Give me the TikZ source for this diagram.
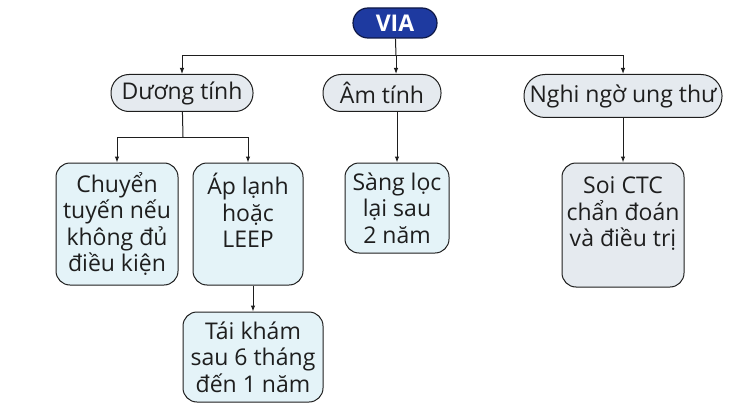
\documentclass[tikz,border=0pt]{standalone}
\usepackage{fontspec}
\setmainfont{Open Sans}
\usetikzlibrary{positioning,arrows.meta}

\definecolor{viablue}{RGB}{30,58,160}
\definecolor{vianavy}{RGB}{14,24,70}
\definecolor{boxcyan}{RGB}{228,243,248}
\definecolor{boxgrey}{RGB}{229,234,239}
\definecolor{inkgrey}{RGB}{30,30,30}

\begin{document}
\begin{tikzpicture}[x=1pt,y=-1pt,>={Latex[length=6pt,width=4.5pt]},
  every node/.style={font=\fontsize{23}{26.5}\selectfont,text=inkgrey,align=center,inner sep=0pt},
  pill/.style={draw=inkgrey,line width=1pt,fill=boxgrey,rounded corners=18pt,minimum height=37pt},
  card/.style={draw=inkgrey,line width=1pt,rounded corners=14pt,fill=boxcyan},
  link/.style={draw=inkgrey,line width=1pt}]
  \useasboundingbox (0,0) rectangle (738,417);
  % top
  \node[draw=vianavy,line width=1.2pt,fill=viablue,rounded corners=15pt,minimum width=84pt,minimum height=30pt,
        text=white,font=\fontsize{23}{26}\selectfont\bfseries] (via) at (395,23) {VIA};
  \node[pill,minimum width=142pt] (duong) at (182,93) {Dương tính};
  \node[pill,minimum width=118pt] (am) at (382,93) {Âm tính};
  \node[pill,minimum width=198pt,minimum height=43pt,rounded corners=21pt] (nghi) at (623,96) {Nghi ngờ ung thư};
  % second row
  \node[card,minimum width=122pt,minimum height=122pt] (chuyen) at (117,224) {Chuyển\\tuyến nếu\\không đủ\\điều kiện};
  \node[card,minimum width=110pt,minimum height=122pt] (aplanh) at (248,224) {Áp lạnh\\hoặc\\LEEP\\\phantom{X}};
  \node[card,minimum width=104pt,minimum height=90pt] (sang) at (397,208) {Sàng lọc\\lại sau\\2 năm};
  \node[card,fill=boxgrey,minimum width=122pt,minimum height=124pt] (soi) at (623,225) {Soi CTC\\chẩn đoán\\và điều trị\\\phantom{X}};
  \node[card,minimum width=140pt,minimum height=90pt] (taikham) at (253,357) {Tái khám\\sau 6 tháng\\đến 1 năm};
  % connectors
  \coordinate (j0) at (396,56);
  \coordinate (j1) at (183,137);
  \draw[link] (via) -- (j0);
  \draw[link,->] (j0) -| (duong);
  \draw[link,->] (j0) -- (am.north -| j0);
  \draw[link,->] (j0) -| (nghi);
  \draw[link] (duong) -- (j1);
  \draw[link,->] (j1) -| (chuyen);
  \draw[link,->] (j1) -| (aplanh);
  \draw[link,->] (am.south -| sang) -- (sang);
  \draw[link,->] (nghi) -- (soi);
  \draw[link,->] (aplanh.south -| taikham) -- (taikham);
\end{tikzpicture}
\end{document}
